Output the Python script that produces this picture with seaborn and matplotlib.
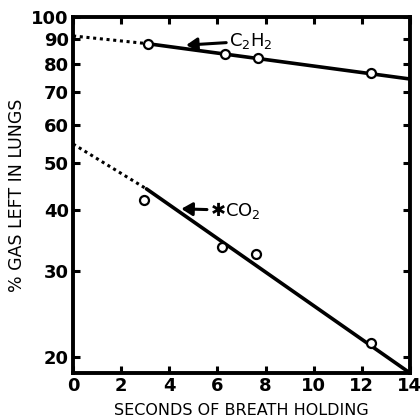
import matplotlib as mpl
mpl.use('Agg')
import numpy as np
import pandas as pd
import seaborn as sns
import matplotlib.pyplot as plt
from matplotlib.ticker import FixedLocator, NullLocator, FixedFormatter

# measured points (seconds of breath holding, % gas left)
c2h2_sec = [3.1, 6.3, 7.7, 12.4]
c2h2_pct = [88.2, 83.8, 82.3, 76.7]
co2_sec = [2.95, 6.2, 7.6, 12.4]
co2_pct = [42.0, 33.6, 32.6, 21.3]

# fitted lines: dotted extrapolation to zero and solid fit
c2h2_fit_sec = [3.1, 14.0]
c2h2_fit_pct = [88.2, 74.6]
c2h2_extr_sec = [0.0, 3.1]
c2h2_extr_pct = [91.5, 88.2]
co2_fit_sec = [3.05, 14.0]
co2_fit_pct = [44.3, 18.5]
co2_extr_sec = [0.0, 3.05]
co2_extr_pct = [54.8, 44.3]

x_ticks = [0, 2, 4, 6, 8, 10, 12, 14]
y_ticks = [20, 30, 40, 50, 60, 70, 80, 90, 100]

sns.set_style('ticks', rc={'axes.edgecolor': 'black',
                           'xtick.color': 'black', 'ytick.color': 'black',
                           'text.color': 'black',
                           'axes.labelcolor': 'black'})
plt.rcParams['font.family'] = ['DejaVu Sans']

fig = plt.figure(figsize=(4.2, 4.2), dpi=100)
ax = fig.add_axes([0.174, 0.112, 0.802, 0.847])

lw = 2.6
sns.lineplot(x=c2h2_fit_sec, y=c2h2_fit_pct, ax=ax, color='black', lw=lw)
sns.lineplot(x=co2_fit_sec, y=co2_fit_pct, ax=ax, color='black', lw=lw)
sns.lineplot(x=c2h2_extr_sec, y=c2h2_extr_pct, ax=ax, color='black',
             lw=2.2, linestyle=(0, (1, 1.2)))
sns.lineplot(x=co2_extr_sec, y=co2_extr_pct, ax=ax, color='black',
             lw=2.2, linestyle=(0, (1, 1.2)))

pts = pd.DataFrame({'sec': c2h2_sec + co2_sec,
                    'pct': c2h2_pct + co2_pct})
sns.scatterplot(data=pts, x='sec', y='pct', ax=ax, s=42, marker='o',
                facecolor='white', edgecolor='black', linewidth=1.6,
                zorder=5)

ax.set_yscale('log')
ax.set_xlim(0, 14)
ax.set_ylim(18.5, 100)

ax.xaxis.set_major_locator(FixedLocator(x_ticks))
ax.yaxis.set_major_locator(FixedLocator(y_ticks))
ax.yaxis.set_major_formatter(FixedFormatter([str(v) for v in y_ticks]))
ax.yaxis.set_minor_locator(NullLocator())
ax.tick_params(axis='both', which='major', direction='in', length=5,
               width=2.2, top=True, right=True, labelsize=13, pad=3)
for lab in ax.get_xticklabels() + ax.get_yticklabels():
    lab.set_fontweight('bold')
for sp in ax.spines.values():
    sp.set_linewidth(2.8)
    sp.set_visible(True)

ax.set_xlabel('SECONDS OF BREATH HOLDING', fontsize=11.5, labelpad=6)
ax.set_ylabel('% GAS LEFT IN LUNGS', fontsize=12.5, labelpad=4)

# labels with arrows pointing at the fitted lines
ax.annotate('C$_2$H$_2$', xy=(4.7, 87.6), xytext=(6.5, 89.3),
            fontsize=13, va='center', ha='left',
            arrowprops=dict(arrowstyle='-|>,head_length=0.5,head_width=0.3',
                            color='black', lw=2.2, shrinkA=0, shrinkB=0))
ax.annotate('\u2731CO$_2$', xy=(4.5, 40.3), xytext=(5.7, 40.0),
            fontsize=13, va='center', ha='left',
            arrowprops=dict(arrowstyle='-|>,head_length=0.5,head_width=0.3',
                            color='black', lw=2.2, shrinkA=0, shrinkB=0))

plt.savefig('out.png', dpi=100)
plt.close()
